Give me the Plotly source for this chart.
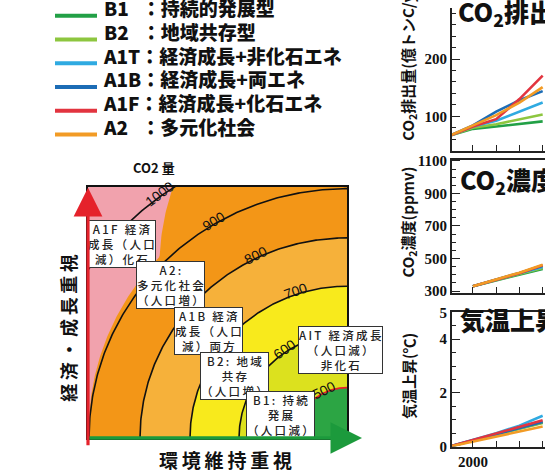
import numpy as np
import plotly.graph_objects as go

W, H = 545, 471

# ---------------- data ----------------
SCENARIOS = ["B1", "B2", "A1T", "A1B", "A1F", "A2"]
LEGEND_LABELS = ["B1   ：持続的発展型", "B2   ：地域共存型", "A1T：経済成長+非化石エネ",
                 "A1B：経済成長+両エネ", "A1F：経済成長+化石エネ", "A2   ：多元化社会"]
COLORS = ["#22a046", "#8dc63f", "#2faae1", "#1c6cb5", "#e2343f", "#f29b25"]

EMIS_YEARS = [1990, 2000, 2010, 2020, 2030]
EMIS_B1 = [66, 78, 82, 87, 91]
EMIS_B2 = [66, 80, 86, 95, 103]
EMIS_A1T = [66, 82, 92, 108, 124]
EMIS_A1B = [66, 84, 108, 128, 144]
EMIS_A1F = [66, 82, 95, 130, 171]
EMIS_A2 = [66, 84, 102, 124, 151]

CONC_YEARS = [2000, 2010, 2020, 2030]
CONC_B1 = [330, 366, 402, 436]
CONC_B2 = [330, 367, 405, 442]
CONC_A1T = [330, 368, 408, 448]
CONC_A1B = [330, 369, 411, 455]
CONC_A1F = [330, 368, 410, 458]
CONC_A2 = [330, 370, 413, 462]

TEMP_YEARS = [1990, 2000, 2010, 2020, 2030]
TEMP_B1 = [0, 0.22, 0.44, 0.66, 0.90]
TEMP_B2 = [0, 0.22, 0.45, 0.67, 0.88]
TEMP_A1T = [0, 0.25, 0.50, 0.78, 1.15]
TEMP_A1B = [0, 0.23, 0.47, 0.70, 0.92]
TEMP_A1F = [0, 0.24, 0.49, 0.73, 0.98]
TEMP_A2 = [0, 0.18, 0.37, 0.56, 0.75]

EMIS = [EMIS_B1, EMIS_B2, EMIS_A1T, EMIS_A1B, EMIS_A1F, EMIS_A2]
CONC = [CONC_B1, CONC_B2, CONC_A1T, CONC_A1B, CONC_A1F, CONC_A2]
TEMP = [TEMP_B1, TEMP_B2, TEMP_A1T, TEMP_A1B, TEMP_A1F, TEMP_A2]

# conceptual diagram: CO2 contour levels and their radius (diagram units)
CONTOUR_LEVELS = [500, 600, 700, 800, 900, 1000]
CONTOUR_RADII = [52, 108, 157, 207, 258, 312]
CONTOUR_LABEL_ANGLES = [64, 55, 71, 64, 59, 53]
BAND_COLORS = ["#2ca544", "#dce11e", "#f8ea1c", "#f6b13a", "#f39617"]  # inside 500, 500-600, 600-700, 700-800, 800-1000
PINK = "#f1a2ad"
PINK_EDGE_ANGLES = [0, 45, 56, 90]
PINK_EDGE_RADII = [258, 265, 312, 312]

BOX_TEXTS = ["A1F 経済<br>成長（人口<br>減）化石", "A2:<br>多元化社会<br>（人口増）",
             "A1B 経済<br>成長（人口<br>減）両方", "B2: 地域<br>共存<br>（人口増）",
             "B1: 持続<br>発展<br>（人口減）", "AIT 経済成長<br>（人口減）<br>非化石"]

DX, DY = 259, 260  # diagram extent
CX, CY = DX, 0      # contour centre (bottom-right corner)


def px(x):
    return x / W


def py(y):
    return 1 - y / H


def spaced(t):
    return "<br>".join("\u2009".join(list(line)) for line in t.split("<br>"))


def arc_xy(r, th0=0.0, th1=90.0, n=200):
    th = np.radians(np.linspace(th0, th1, n))
    r = np.broadcast_to(np.asarray(r, dtype=float), th.shape)
    return CX - r * np.cos(th), CY + r * np.sin(th)


def region(r):
    x, y = arc_xy(r)
    x = np.clip(np.append(x, CX), 0, DX)
    y = np.clip(np.append(y, CY), 0, DY)
    return x, y


fig = go.Figure()

# ---------------- right-hand panels ----------------
panels = [("x", "y", EMIS_YEARS, EMIS), ("x2", "y2", CONC_YEARS, CONC), ("x3", "y3", TEMP_YEARS, TEMP)]
for pi, (xa, ya, years, series) in enumerate(panels):
    for i, s in enumerate(SCENARIOS):
        fig.add_trace(go.Scatter(
            x=years, y=series[i], mode="lines", xaxis=xa, yaxis=ya,
            line=dict(color=COLORS[i], width=2.6), name=LEGEND_LABELS[i], showlegend=False))

# ---------------- conceptual diagram ----------------
th_grid = np.linspace(0, 90, 200)
pink_r = np.interp(th_grid, PINK_EDGE_ANGLES, PINK_EDGE_RADII)
fills = [(pink_r, BAND_COLORS[4]), (CONTOUR_RADII[3], BAND_COLORS[3]),
         (CONTOUR_RADII[2], BAND_COLORS[2]), (CONTOUR_RADII[1], BAND_COLORS[1]),
         (CONTOUR_RADII[0], BAND_COLORS[0])]
for r, c in fills:
    x, y = region(r)
    fig.add_trace(go.Scatter(x=x, y=y, mode="lines", fill="toself", fillcolor=c,
                             line=dict(width=0, color=c), xaxis="x4", yaxis="y4",
                             showlegend=False, hoverinfo="skip"))
for lev, r in zip(CONTOUR_LEVELS, CONTOUR_RADII):
    x, y = arc_xy(r)
    fig.add_trace(go.Scatter(x=x, y=y, mode="lines", xaxis="x4", yaxis="y4",
                             line=dict(color="#e8202a" if lev == 500 else "#111", width=1.6),
                             showlegend=False, hoverinfo="skip"))

# ---------------- legend (key lines + labels on a full-page overlay axis) ----------------
rows = [3.5 + 24.6 * i for i in range(len(SCENARIOS))]
shapes = [dict(type="rect", xref="x4 domain", yref="y4 domain", x0=0, x1=1, y0=0, y1=1,
               fillcolor=PINK, line=dict(width=0), layer="below")]
for yrow, col in zip(rows, COLORS):
    shapes.append(dict(type="line", xref="paper", yref="paper", x0=px(55), x1=px(97),
                       y0=py(yrow + 4.5), y1=py(yrow + 4.5), line=dict(color=col, width=4)))
fig.add_trace(go.Scatter(x=[104] * len(rows), y=rows, mode="text", text=LEGEND_LABELS,
                         textposition="middle right", xaxis="x5", yaxis="y5", cliponaxis=False,
                         textfont=dict(family="Noto Sans CJK JP", size=19, color="#111", weight=900),
                         showlegend=False, hoverinfo="skip"))
fig.add_trace(go.Scatter(x=[458], y=[8], mode="text", text=["CO<sub>2</sub>排出量"],
                         textposition="middle right", xaxis="x5", yaxis="y5", cliponaxis=False,
                         textfont=dict(family="Noto Sans CJK JP", size=25, color="#111", weight=900),
                         showlegend=False, hoverinfo="skip"))

C = dict(xanchor="center", yanchor="middle", showarrow=False, xref="paper", yref="paper")
annotations = []
for lev, r, a in zip(CONTOUR_LEVELS, CONTOUR_RADII, CONTOUR_LABEL_ANGLES):
    x, y = arc_xy(r, a, a, 1)
    annotations.append(dict(x=x[0], y=y[0], xref="x4", yref="y4", text=str(lev), showarrow=False,
                            xanchor="center", yanchor="middle", textangle=-(90 - a), yshift=3,
                            font=dict(family="Liberation Sans", size=14, color="#111")))

box_pos = [(121, 244), (170, 287), (208, 334), (234, 381), (280, 421), (340, 354)]
for t, (bx, by) in zip(BOX_TEXTS, box_pos):
    annotations.append(dict(x=px(bx), y=py(by), text=spaced(t),
                            bgcolor="white", bordercolor="#333", borderwidth=1, borderpad=0,
                            font=dict(family="Noto Sans CJK JP", size=11.5, color="#222", weight=500), **C))

# axis arrows
annotations.append(dict(x=px(88), y=py(186), xref="paper", yref="paper", ax=0, ay=259, text="",
                        showarrow=True, arrowhead=2, arrowsize=1.8, arrowwidth=3.2, arrowcolor="#e5222b"))
annotations.append(dict(x=px(362), y=py(445), xref="paper", yref="paper", ax=-274, ay=0, text="",
                        showarrow=True, arrowhead=2, arrowsize=1.8, arrowwidth=3.5, arrowcolor="#1c9a3c"))

# diagram texts
annotations.append(dict(x=px(154), y=py(165), text="CO2 量",
                        font=dict(family="Noto Sans CJK JP", size=13, color="#111", weight=700), **C))
annotations.append(dict(x=px(68), y=py(331), text="経\u2009済\u2009・\u2009成\u2009長\u2009重\u2009視",
                        textangle=-90,
                        font=dict(family="Noto Sans CJK JP", size=18, color="#111", weight=700), **C))
annotations.append(dict(x=px(225), y=py(467), text="環\u2009境\u2009維\u2009持\u2009重\u2009視",
                        font=dict(family="Noto Sans CJK JP", size=19, color="#111", weight=700), **C))

# panel titles and y titles
for t, yc in [("CO<sub>2</sub>濃度", 179), ("気温上昇", 322)]:
    annotations.append(dict(x=px(458), y=py(yc), xref="paper", yref="paper", xanchor="left",
                            yanchor="middle", text=t, showarrow=False,
                            font=dict(family="Noto Sans CJK JP", size=25, color="#111", weight=900)))
for t, yc in [("CO<sub>2</sub>濃度(ppmv)", 222), ("気温上昇(℃)", 381)]:
    annotations.append(dict(x=px(408), y=py(yc), text=t, textangle=-90,
                            font=dict(family="Noto Sans CJK JP", size=15, color="#111", weight=700), **C))

tickfont = dict(family="Liberation Serif", size=15, color="#111", weight=700)
xcommon = dict(range=[1991, 2031], tickvals=[2000, 2050, 2100], ticks="inside", ticklen=6,
               showline=True, linecolor="#222", linewidth=2, showgrid=False, zeroline=False,
               minor=dict(dtick=10, tick0=2000, ticks="inside", ticklen=6, tickcolor="#222"),
               tickcolor="#222", tickfont=tickfont)
ycommon = dict(ticks="inside", ticklen=8, tickcolor="#222", showline=True, linecolor="#222",
               linewidth=2, showgrid=False, zeroline=False, tickfont=tickfont)
xd = [452 / W, 1.0]

fig.update_layout(
    width=W, height=H, margin=dict(l=0, r=0, t=0, b=0),
    paper_bgcolor="white", plot_bgcolor="rgba(0,0,0,0)",
    xaxis=dict(domain=xd, anchor="y", showticklabels=False, **xcommon),
    yaxis=dict(domain=[py(148), 1.0], anchor="x", range=[39.3, 289.3], dtick=100,
               title=dict(text="<span style='color:rgba(0,0,0,0)'>一一</span>CO<sub>2</sub>排出量(億トンC/y)",
                          standoff=6,
                          font=dict(family="Noto Sans CJK JP", size=15, color="#111", weight=700)),
               minor=dict(dtick=20, ticks="inside", ticklen=4, tickcolor="#222"), **ycommon),
    xaxis2=dict(domain=xd, anchor="y2", showticklabels=False, mirror=True, **xcommon),
    yaxis2=dict(domain=[py(295), py(157)], anchor="x2", range=[288, 1108], dtick=200, tick0=300,
                minor=dict(dtick=50, tick0=300, ticks="inside", ticklen=4, tickcolor="#222"), **ycommon),
    xaxis3=dict(domain=xd, anchor="y3", mirror=True, **xcommon),
    yaxis3=dict(domain=[py(454), py(315)], anchor="x3", range=[0, 5], tickvals=[0, 2, 4, 5],
                minor=dict(dtick=0.5, ticks="inside", ticklen=4, tickcolor="#222"), **ycommon),
    xaxis4=dict(domain=[88 / W, 347 / W], anchor="y4", range=[0, DX], showgrid=False, zeroline=False,
                showticklabels=False, ticks="", showline=True, mirror=True, linecolor="#111", linewidth=1.5),
    yaxis4=dict(domain=[py(445), py(185)], anchor="x4", range=[0, DY], showgrid=False, zeroline=False,
                showticklabels=False, ticks="", showline=True, mirror=True, linecolor="#111", linewidth=1.5),
    xaxis5=dict(domain=[0, 1], anchor="y5", range=[0, W], visible=False, fixedrange=True),
    yaxis5=dict(domain=[0, 1], anchor="x5", range=[H, 0], visible=False, fixedrange=True),
    shapes=shapes,
    annotations=annotations,
    showlegend=False,
)

fig.write_html("out.html", post_script="document.body.style.margin='0';",
               config={"displayModeBar": False})
